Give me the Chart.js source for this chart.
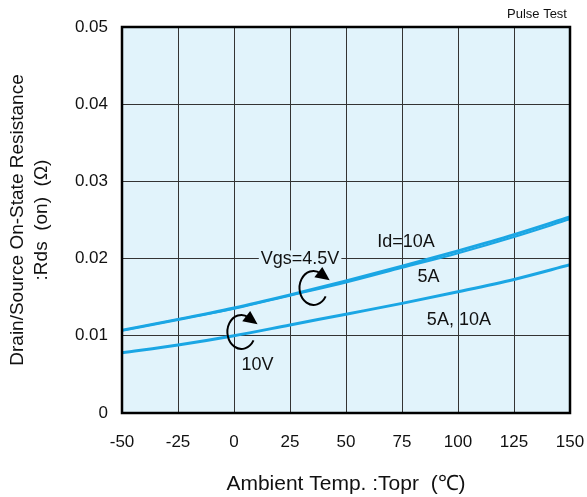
<!DOCTYPE html>
<html>
<head>
<meta charset="utf-8">
<script src="https://cdn.jsdelivr.net/npm/chart.js@4/dist/chart.umd.min.js"></script>
<style>
  html, body { margin:0; padding:0; background:#fff; }
  #wrap { width:587px; height:497px; position:relative; }
</style>
</head>
<body>
<div id="wrap"><canvas id="rdsChart"></canvas></div>
<script>
// ambient temperature (deg C)
var temps = [-50, -25, 0, 25, 50, 75, 100, 125, 150];
// Rds(on) in ohm
var rdsVgs45Id10 = [0.0107, 0.0121, 0.0136, 0.0153, 0.0171, 0.0190, 0.0210, 0.0231, 0.0254];
var rdsVgs45Id5  = [0.0107, 0.0121, 0.0135, 0.0152, 0.0169, 0.0188, 0.0207, 0.0228, 0.0251];
var rdsVgs10     = [0.0078, 0.0088, 0.0100, 0.0114, 0.0128, 0.0142, 0.0157, 0.0173, 0.0192];
var xTicks = [-50, -25, 0, 25, 50, 75, 100, 125, 150];
var yTicks = [0, 0.01, 0.02, 0.03, 0.04, 0.05];

// text labels, placed in data units
var notes = [
  {text:"Vgs=4.5V", x:29.5, y:0.0199, bg:true},
  {text:"Id=10A",   x:76.8, y:0.0221},
  {text:"5A",       x:86.8, y:0.0176},
  {text:"5A, 10A",  x:100.4,y:0.0121},
  {text:"10V",      x:10.5, y:0.0062}
];
// circular arrows (data units)
var turns = [
  {x:3.3, y:0.0105, rx:14, ry:17},
  {x:35.5,y:0.0162, rx:14, ry:17}
];

function pts(ys){
  var out=[];
  for (var i in temps) out.push({x:temps[i], y:ys[i]});
  return out;
}

var lineStyle = {
  borderColor:"#1aa6e4",
  borderWidth:3,
  pointRadius:0,
  fill:false,
  cubicInterpolationMode:"monotone"
};

var chartdata = {
  datasets:[
    Object.assign({label:"Vgs=4.5V Id=10A", data:pts(rdsVgs45Id10)}, lineStyle),
    Object.assign({label:"Vgs=4.5V Id=5A",  data:pts(rdsVgs45Id5)}, lineStyle, {borderWidth:2}),
    Object.assign({label:"Vgs=10V", data:pts(rdsVgs10)}, lineStyle)
  ]
};

var FONT="'Liberation Sans', Arial, sans-serif";

var decor = {
  id:"decor",
  beforeDraw:function(chart){
    var a=chart.chartArea, c=chart.ctx;
    c.save();
    c.fillStyle="#e1f3fb";
    c.fillRect(a.left,a.top,a.right-a.left,a.bottom-a.top);
    c.restore();
  },
  afterDraw:function(chart){
    var a=chart.chartArea, c=chart.ctx;
    var xs=chart.scales.x, ys=chart.scales.y;
    c.save();
    c.strokeStyle="#000";
    c.lineWidth=2.5;
    c.strokeRect(a.left,a.top,a.right-a.left,a.bottom-a.top);

    c.font="18px "+FONT;
    c.textAlign="center";
    c.textBaseline="middle";
    notes.forEach(function(n){
      var px=xs.getPixelForValue(n.x), py=ys.getPixelForValue(n.y);
      if (n.bg){
        var w=c.measureText(n.text).width;
        c.fillStyle="#e1f3fb";
        c.fillRect(px-w/2-2,py-9,w+4,18);
      }
      c.fillStyle="#111";
      c.fillText(n.text,px,py);
    });

    turns.forEach(function(t){
      var px=xs.getPixelForValue(t.x), py=ys.getPixelForValue(t.y);
      var a0=Math.PI/6, a1=Math.PI*1.68;
      c.strokeStyle="#000";
      c.lineWidth=2;
      c.beginPath();
      c.ellipse(px,py,t.rx,t.ry,0,a0,a1,false);
      c.stroke();
      // arrow head at the end, pointing along the turn
      var ex=px+t.rx*Math.cos(a1), ey=py+t.ry*Math.sin(a1);
      var dx=-t.rx*Math.sin(a1), dy=t.ry*Math.cos(a1);
      var L=Math.sqrt(dx*dx+dy*dy); dx/=L; dy/=L;
      c.fillStyle="#000";
      c.beginPath();
      c.moveTo(ex+dx*11,ey+dy*11);
      c.lineTo(ex-dx*3-dy*7,ey-dy*3+dx*7);
      c.lineTo(ex-dx*3+dy*6,ey-dy*3-dx*6);
      c.closePath();
      c.fill();
    });

    c.font="13px "+FONT;
    c.fillStyle="#111";
    c.textAlign="center";
    c.fillText("Pulse Test",537,14);
    c.restore();
  }
};

var ctx=document.getElementById("rdsChart");
var chart=new Chart(ctx,{
  type:"line",
  data:chartdata,
  plugins:[decor],
  options:{
    responsive:true,
    maintainAspectRatio:false,
    animation:false,
    layout:{padding:{left:0,right:0,top:27,bottom:0}},
    plugins:{legend:{display:false},tooltip:{enabled:false}},
    scales:{
      x:{
        type:"linear",
        min:-50, max:150,
        afterBuildTicks:function(s){ s.ticks=xTicks.map(function(v){return {value:v};}); },
        afterFit:function(s){ s.height=84; s.paddingLeft=0; s.paddingRight=17; },
        grid:{color:"#333",lineWidth:1,drawTicks:false},
        border:{display:false},
        ticks:{
          color:"#111",padding:19,maxRotation:0,
          font:{family:FONT,size:17}
        },
        title:{
          display:true,
          text:"Ambient Temp. :Topr  (℃)",
          color:"#111",
          padding:{top:10,bottom:0},
          font:{family:FONT,size:21}
        }
      },
      y:{
        min:0, max:0.05,
        afterBuildTicks:function(s){ s.ticks=yTicks.map(function(v){return {value:v};}); },
        afterFit:function(s){ s.width=122; },
        grid:{color:"#333",lineWidth:1,drawTicks:false},
        border:{display:false},
        ticks:{
          color:"#111",padding:14,
          font:{family:FONT,size:17},
          callback:function(v){ return v===0 ? "0" : v.toFixed(2); }
        },
        title:{
          display:true,
          text:["Drain/Source On-State Resistance",":Rds  (on)  (Ω)"],
          color:"#111",
          padding:{top:5,bottom:4},
          font:{family:FONT,size:19,lineHeight:1.3}
        }
      }
    }
  }
});
</script>
</body>
</html>
